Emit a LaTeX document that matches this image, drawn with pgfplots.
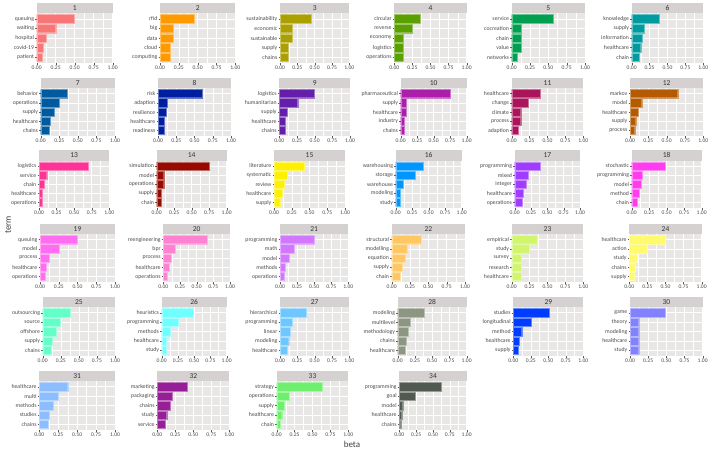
\documentclass[border=0pt]{standalone}
\usepackage{fontspec}
\setmainfont{Carlito}
\usepackage{pgfplots}
\pgfplotsset{compat=1.18}
\definecolor{panelbg}{RGB}{233,230,230}
\definecolor{stripbg}{RGB}{214,209,209}
\definecolor{c1}{RGB}{248,118,118}
\definecolor{c2}{RGB}{255,153,0}
\definecolor{c3}{RGB}{170,160,0}
\definecolor{c4}{RGB}{90,160,0}
\definecolor{c5}{RGB}{0,160,80}
\definecolor{c6}{RGB}{0,155,160}
\definecolor{c7}{RGB}{0,90,160}
\definecolor{c8}{RGB}{0,30,160}
\definecolor{c9}{RGB}{100,30,170}
\definecolor{c10}{RGB}{170,30,170}
\definecolor{c11}{RGB}{170,20,90}
\definecolor{c12}{RGB}{180,90,0}
\definecolor{c13}{RGB}{255,50,150}
\definecolor{c14}{RGB}{150,10,0}
\definecolor{c15}{RGB}{255,240,0}
\definecolor{c16}{RGB}{0,150,255}
\definecolor{c17}{RGB}{160,60,255}
\definecolor{c18}{RGB}{255,60,240}
\definecolor{c19}{RGB}{255,110,240}
\definecolor{c20}{RGB}{255,130,210}
\definecolor{c21}{RGB}{210,120,255}
\definecolor{c22}{RGB}{255,200,100}
\definecolor{c23}{RGB}{210,245,110}
\definecolor{c24}{RGB}{255,250,110}
\definecolor{c25}{RGB}{100,255,200}
\definecolor{c26}{RGB}{110,255,255}
\definecolor{c27}{RGB}{110,200,255}
\definecolor{c28}{RGB}{140,150,130}
\definecolor{c29}{RGB}{0,60,255}
\definecolor{c30}{RGB}{130,130,255}
\definecolor{c31}{RGB}{140,190,255}
\definecolor{c32}{RGB}{150,30,150}
\definecolor{c33}{RGB}{110,240,110}
\definecolor{c34}{RGB}{80,90,80}
\pgfplotsset{
  facet/.style 2 args={
    scale only axis, anchor=south west, xbar,
    xmin=0, xmax=1, ymin=0.4, ymax=5.6, y dir=reverse,
    ytick={1,2,3,4,5},
    xtick={0,0.25,0.5,0.75,1},
    xticklabels={0.00,0.25,0.50,0.75,1.00},
    minor x tick num=1,
    grid=both,
    major grid style={white, line width=0.5pt},
    minor grid style={white, line width=0.25pt},
    axis background/.style={fill=panelbg},
    axis line style={draw=none},
    tick align=outside,
    major tick length=1.5pt,
    minor tick length=0pt,
    tick style={black!65, line width=0.3pt},
    tick pos=left,
    xticklabel style={font=\fontsize{5.6}{6}\selectfont, text=black!70, inner sep=1pt},
    yticklabel style={font=\fontsize{5.8}{6}\selectfont, text=black!70, inner sep=1pt},
    clip=false,
    after end axis/.append code={
      \fill[stripbg] (rel axis cs:0,1) rectangle ([yshift=10.5pt]rel axis cs:1,1);
      \node[font=\fontsize{7.5}{8}\selectfont, text=black!80] at ([yshift=5.25pt]rel axis cs:0.5,1) {#1};
    },
  },
  bars/.style={fill=#1, draw=#1!60!white, line width=0.3pt, bar width=0.9, bar shift=0pt},
}
\begin{document}
\begin{tikzpicture}
\useasboundingbox (0,0) rectangle (709pt,-451pt);
% ---------- Row 1 ----------
\begin{axis}[facet={1}{c1}, at={(36.7pt,-63pt)}, width=76pt, height=50pt,
  yticklabels={queuing,waiting,hospital,covid-19,patient}]
\addplot[bars=c1] coordinates {(0.49,1) (0.25,2) (0.12,3) (0.08,4) (0.07,5)};
\end{axis}
\begin{axis}[facet={2}{c2}, at={(160pt,-63pt)}, width=75.3pt, height=50pt,
  yticklabels={rfid,big,data,cloud,computing}]
\addplot[bars=c2] coordinates {(0.46,1) (0.18,2) (0.18,3) (0.13,4) (0.13,5)};
\end{axis}
\begin{axis}[facet={3}{c3}, at={(280pt,-63pt)}, width=69.3pt, height=50pt,
  yticklabels={sustainability,economic,sustainable,supply,chains}]
\addplot[bars=c3] coordinates {(0.45,1) (0.17,2) (0.17,3) (0.12,4) (0.12,5)};
\end{axis}
\begin{axis}[facet={4}{c4}, at={(394.3pt,-63pt)}, width=72.4pt, height=50pt,
  yticklabels={circular,reverse,economy,logistics,operations}]
\addplot[bars=c4] coordinates {(0.355,1) (0.245,2) (0.125,3) (0.125,4) (0.12,5)};
\end{axis}
\begin{axis}[facet={5}{c5}, at={(511.7pt,-63pt)}, width=73.3pt, height=50pt,
  yticklabels={service,cocreation,chain,value,networks}]
\addplot[bars=c5] coordinates {(0.57,1) (0.13,2) (0.13,3) (0.13,4) (0.08,5)};
\end{axis}
\begin{axis}[facet={6}{c6}, at={(631.7pt,-63pt)}, width=71.6pt, height=50pt,
  yticklabels={knowledge,supply,information,healthcare,chain}]
\addplot[bars=c6] coordinates {(0.39,1) (0.18,2) (0.15,3) (0.125,4) (0.11,5)};
\end{axis}
% ---------- Row 2 ----------
\begin{axis}[facet={7}{c7}, at={(40.7pt,-136pt)}, width=74.3pt, height=48pt,
  yticklabels={behavior,operations,supply,healthcare,chains}]
\addplot[bars=c7] coordinates {(0.36,1) (0.25,2) (0.18,3) (0.13,4) (0.12,5)};
\end{axis}
\begin{axis}[facet={8}{c8}, at={(158pt,-136pt)}, width=73pt, height=48pt,
  yticklabels={risk,adaption,resilience,healthcare,readiness}]
\addplot[bars=c8] coordinates {(0.61,1) (0.13,2) (0.11,3) (0.08,4) (0.08,5)};
\end{axis}
\begin{axis}[facet={9}{c9}, at={(279.3pt,-136pt)}, width=70.7pt, height=48pt,
  yticklabels={logistics,humanitarian,supply,healthcare,chains}]
\addplot[bars=c9] coordinates {(0.49,1) (0.26,2) (0.11,3) (0.08,4) (0.08,5)};
\end{axis}
\begin{axis}[facet={10}{c10}, at={(400.7pt,-136pt)}, width=66pt, height=48pt,
  yticklabels={pharmaceutical,supply,healthcare,industry,chains}]
\addplot[bars=c10] coordinates {(0.75,1) (0.09,2) (0.09,3) (0.055,4) (0.055,5)};
\end{axis}
\begin{axis}[facet={11}{c11}, at={(511.7pt,-136pt)}, width=71.6pt, height=48pt,
  yticklabels={healthcare,change,climate,process,adaption}]
\addplot[bars=c11] coordinates {(0.40,1) (0.23,2) (0.125,3) (0.125,4) (0.09,5)};
\end{axis}
\begin{axis}[facet={12}{c12}, at={(630pt,-136pt)}, width=73.3pt, height=48pt,
  yticklabels={markov,model,healthcare,supply,process}]
\addplot[bars=c12] coordinates {(0.65,1) (0.16,2) (0.11,3) (0.077,4) (0.064,5)};
\end{axis}
% ---------- Row 3 ----------
\begin{axis}[facet={13}{c13}, at={(39pt,-208pt)}, width=70.3pt, height=47.5pt,
  yticklabels={logistics,service,chain,healthcare,operations}]
\addplot[bars=c13] coordinates {(0.70,1) (0.11,2) (0.08,3) (0.047,4) (0.047,5)};
\end{axis}
\begin{axis}[facet={14}{c14}, at={(156.7pt,-208pt)}, width=70pt, height=47.5pt,
  yticklabels={simulation,model,operations,supply,chain}]
\addplot[bars=c14] coordinates {(0.75,1) (0.10,2) (0.10,3) (0.06,4) (0.06,5)};
\end{axis}
\begin{axis}[facet={15}{c15}, at={(274pt,-208pt)}, width=71pt, height=47.5pt,
  yticklabels={literature,systematic,review,healthcare,supply}]
\addplot[bars=c15] coordinates {(0.43,1) (0.19,2) (0.14,3) (0.12,4) (0.08,5)};
\end{axis}
\begin{axis}[facet={16}{c16}, at={(395.7pt,-208pt)}, width=66pt, height=47.5pt,
  yticklabels={warehousing,storage,warehouse,modeling,study}]
\addplot[bars=c16] coordinates {(0.42,1) (0.29,2) (0.12,3) (0.065,4) (0.065,5)};
\end{axis}
\begin{axis}[facet={17}{c17}, at={(514.7pt,-208pt)}, width=65.3pt, height=47.5pt,
  yticklabels={programming,mixed,integer,healthcare,operations}]
\addplot[bars=c17] coordinates {(0.39,1) (0.20,2) (0.18,3) (0.13,4) (0.12,5)};
\end{axis}
\begin{axis}[facet={18}{c18}, at={(631.7pt,-208pt)}, width=70pt, height=47.5pt,
  yticklabels={stochastic,programming,model,method,chain}]
\addplot[bars=c18] coordinates {(0.48,1) (0.15,2) (0.13,3) (0.11,4) (0.08,5)};
\end{axis}
% ---------- Row 4 ----------
\begin{axis}[facet={19}{c19}, at={(40pt,-282pt)}, width=75pt, height=48pt,
  yticklabels={queuing,model,process,healthcare,operations}]
\addplot[bars=c19] coordinates {(0.50,1) (0.25,2) (0.12,3) (0.085,4) (0.07,5)};
\end{axis}
\begin{axis}[facet={20}{c20}, at={(163.3pt,-282pt)}, width=66.7pt, height=48pt,
  yticklabels={reengineering,bpr,process,healthcare,operations}]
\addplot[bars=c20] coordinates {(0.66,1) (0.185,2) (0.12,3) (0.085,4) (0.065,5)};
\end{axis}
\begin{axis}[facet={21}{c21}, at={(280pt,-282pt)}, width=68.3pt, height=48pt,
  yticklabels={programming,math,model,methods,operations}]
\addplot[bars=c21] coordinates {(0.50,1) (0.21,2) (0.14,3) (0.07,4) (0.06,5)};
\end{axis}
\begin{axis}[facet={22}{c22}, at={(391.7pt,-282pt)}, width=73.3pt, height=48pt,
  yticklabels={structural,modelling,equation,supply,chain}]
\addplot[bars=c22] coordinates {(0.40,1) (0.21,2) (0.18,3) (0.14,4) (0.12,5)};
\end{axis}
\begin{axis}[facet={23}{c23}, at={(511.7pt,-282pt)}, width=71.6pt, height=48pt,
  yticklabels={empirical,study,survey,research,healthcare}]
\addplot[bars=c23] coordinates {(0.36,1) (0.25,2) (0.135,3) (0.135,4) (0.135,5)};
\end{axis}
\begin{axis}[facet={24}{c24}, at={(629.3pt,-282pt)}, width=72.4pt, height=48pt,
  yticklabels={healthcare,action,study,chains,supply}]
\addplot[bars=c24] coordinates {(0.50,1) (0.25,2) (0.115,3) (0.083,4) (0.07,5)};
\end{axis}
% ---------- Row 5 ----------
\begin{axis}[facet={25}{c25}, at={(42.7pt,-356pt)}, width=72.3pt, height=49pt,
  yticklabels={outsourcing,source,offshore,supply,chains}]
\addplot[bars=c25] coordinates {(0.38,1) (0.245,2) (0.185,3) (0.13,4) (0.115,5)};
\end{axis}
\begin{axis}[facet={26}{c26}, at={(161.7pt,-356pt)}, width=65pt, height=49pt,
  yticklabels={heuristics,programming,methods,healthcare,study}]
\addplot[bars=c26] coordinates {(0.49,1) (0.25,2) (0.13,3) (0.07,4) (0.07,5)};
\end{axis}
\begin{axis}[facet={27}{c27}, at={(280pt,-356pt)}, width=69.3pt, height=49pt,
  yticklabels={hierarchical,programming,linear,modeling,healthcare}]
\addplot[bars=c27] coordinates {(0.375,1) (0.17,2) (0.145,3) (0.125,4) (0.11,5)};
\end{axis}
\begin{axis}[facet={28}{c28}, at={(397.7pt,-356pt)}, width=69pt, height=49pt,
  yticklabels={modeling,multilevel,methodology,chains,healthcare}]
\addplot[bars=c28] coordinates {(0.38,1) (0.18,2) (0.15,3) (0.125,4) (0.11,5)};
\end{axis}
\begin{axis}[facet={29}{c29}, at={(513.3pt,-356pt)}, width=70pt, height=49pt,
  yticklabels={studies,longitudinal,method,healthcare,supply}]
\addplot[bars=c29] coordinates {(0.51,1) (0.25,2) (0.12,3) (0.08,4) (0.07,5)};
\end{axis}
\begin{axis}[facet={30}{c30}, at={(630pt,-356pt)}, width=72.7pt, height=49pt,
  yticklabels={game,theory,modeling,healthcare,study}]
\addplot[bars=c30] coordinates {(0.49,1) (0.12,2) (0.12,3) (0.12,4) (0.12,5)};
\end{axis}
% ---------- Row 6 ----------
\begin{axis}[facet={31}{c31}, at={(39.3pt,-430pt)}, width=75.7pt, height=49pt,
  yticklabels={healthcare,multi,methods,studies,chains}]
\addplot[bars=c31] coordinates {(0.375,1) (0.25,2) (0.185,3) (0.135,4) (0.12,5)};
\end{axis}
\begin{axis}[facet={32}{c32}, at={(157.3pt,-430pt)}, width=72pt, height=49pt,
  yticklabels={marketing,packaging,chains,study,service}]
\addplot[bars=c32] coordinates {(0.41,1) (0.21,2) (0.185,3) (0.13,4) (0.115,5)};
\end{axis}
\begin{axis}[facet={33}{c33}, at={(276.7pt,-430pt)}, width=71.6pt, height=49pt,
  yticklabels={strategy,operations,supply,healthcare,chain}]
\addplot[bars=c33] coordinates {(0.64,1) (0.17,2) (0.11,3) (0.07,4) (0.05,5)};
\end{axis}
\begin{axis}[facet={34}{c34}, at={(399.3pt,-430pt)}, width=67.4pt, height=49pt,
  yticklabels={programming,goal,model,healthcare,chains}]
\addplot[bars=c34] coordinates {(0.62,1) (0.23,2) (0.05,3) (0.035,4) (0.02,5)};
\end{axis}
% axis titles
\node[rotate=90, font=\fontsize{9}{10}\selectfont, text=black!75] at (8pt,-225pt) {term};
\node[font=\fontsize{9}{10}\selectfont, text=black!75] at (352pt,-444pt) {beta};
\end{tikzpicture}
\end{document}
